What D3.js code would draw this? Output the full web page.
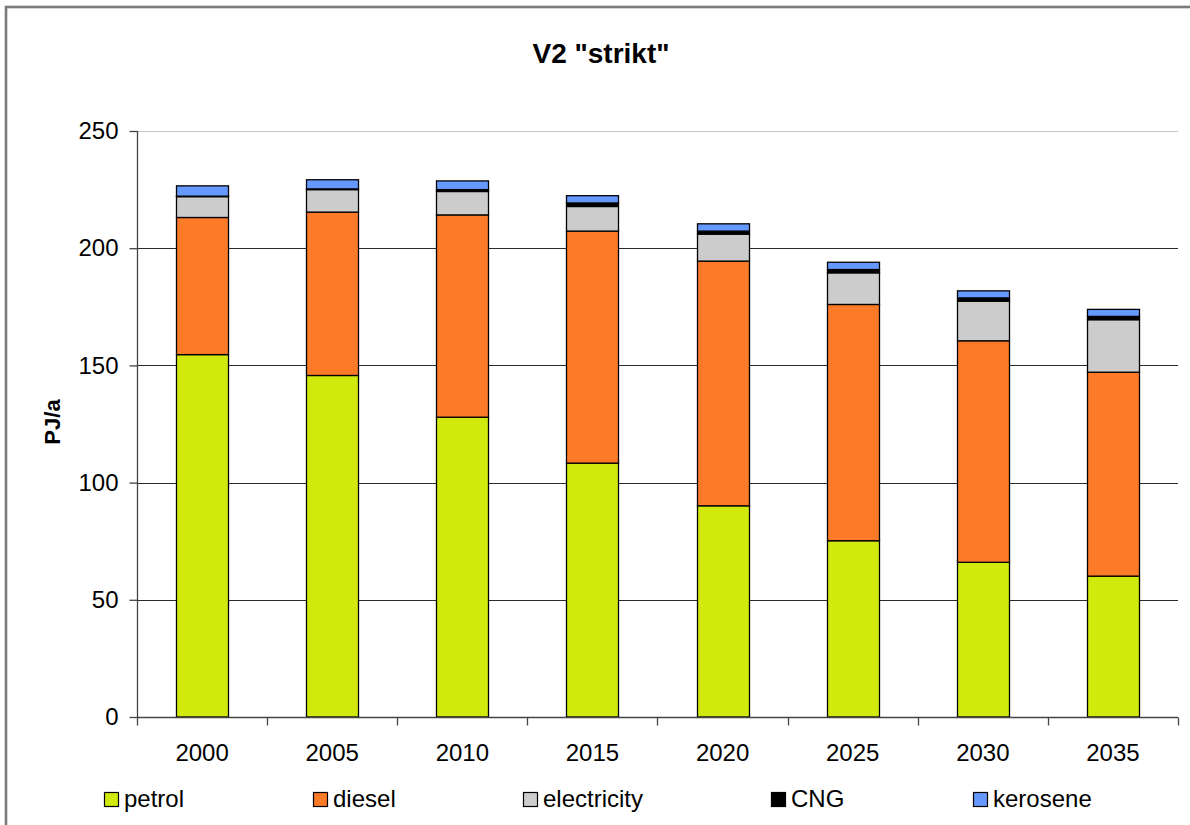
<!DOCTYPE html>
<html>
<head>
<meta charset="utf-8">
<script src="https://cdn.jsdelivr.net/npm/d3@7"></script>
<style>
  html, body { margin: 0; padding: 0; background: #fff; }
  svg { display: block; font-family: Arial, "Liberation Sans", sans-serif; }
</style>
</head>
<body>
<svg id="chart" width="1190" height="825"></svg>
<script>
// Road transport final energy demand by fuel, scenario V2 "strikt" (PJ/a)
const years = ["2000", "2005", "2010", "2015", "2020", "2025", "2030", "2035"];
const petrol      = [154.6, 145.7, 127.9, 108.3, 90.1, 75.2, 66.0, 60.1];
const diesel      = [58.5, 69.7, 86.3, 99.0, 104.4, 100.8, 94.5, 87.0];
const electricity = [8.9, 9.6, 10.0, 10.5, 11.5, 13.5, 16.9, 22.4];
const cng         = [0.2, 0.3, 0.8, 1.5, 1.3, 1.4, 1.4, 1.4];
const kerosene    = [4.4, 3.9, 3.7, 3.1, 3.1, 3.1, 3.0, 3.0];
const seriesNames = ["petrol", "diesel", "electricity", "CNG", "kerosene"];
const yTicks = [0, 50, 100, 150, 200, 250];

const colors = {
  petrol: "#d2e90e",
  diesel: "#fd7b28",
  electricity: "#cccccc",
  CNG: "#000000",
  kerosene: "#6699ff"
};

const rows = years.map((y, i) => ({
  year: y,
  petrol: petrol[i],
  diesel: diesel[i],
  electricity: electricity[i],
  CNG: cng[i],
  kerosene: kerosene[i]
}));

const svg = d3.select("#chart");
const plot = { left: 137, right: 1178, top: 131, bottom: 717 };

// Outer chart frame
svg.append("rect")
  .attr("x", 6).attr("y", 7)
  .attr("width", 1200).attr("height", 840)
  .attr("fill", "none")
  .attr("stroke", "#7a7a7a")
  .attr("stroke-width", 2.6);

const x = d3.scaleBand()
  .domain(years)
  .range([plot.left, plot.right])
  .paddingInner(0.6)
  .paddingOuter(0.3);

const y = d3.scaleLinear()
  .domain([0, 250])
  .range([plot.bottom, plot.top]);

// Horizontal gridlines
svg.append("g")
  .selectAll("line")
  .data(yTicks.filter(t => t > 0))
  .join("line")
  .attr("x1", plot.left).attr("x2", plot.right)
  .attr("y1", d => Math.round(y(d)) + 0.5)
  .attr("y2", d => Math.round(y(d)) + 0.5)
  .attr("stroke", d => d === 250 ? "#c8c8c8" : "#2a2a2a")
  .attr("stroke-width", 1);

// Stacked bars
const stack = d3.stack().keys(seriesNames);
const layers = stack(rows);

svg.append("g")
  .selectAll("g")
  .data(layers)
  .join("g")
  .attr("fill", d => colors[d.key])
  .selectAll("rect")
  .data(d => d)
  .join("rect")
  .attr("x", d => Math.round(x(d.data.year)) + 0.5)
  .attr("y", d => y(d[1]))
  .attr("width", Math.round(x.bandwidth()))
  .attr("height", d => Math.max(0, y(d[0]) - y(d[1])))
  .attr("stroke", "#000")
  .attr("stroke-width", 1.3);

// Y axis
const yAxis = d3.axisLeft(y)
  .tickValues(yTicks)
  .tickSize(8)
  .tickPadding(11)
  .tickFormat(d3.format("d"));

const gy = svg.append("g")
  .attr("transform", `translate(${plot.left + 0.5},0)`)
  .call(yAxis);
gy.select(".domain").attr("stroke", "#444").attr("stroke-width", 1.3)
  .attr("d", `M0,${plot.top}V${plot.bottom}`);
gy.selectAll(".tick line").attr("stroke", "#444").attr("stroke-width", 1.3);
gy.selectAll(".tick text")
  .attr("font-size", 24)
  .attr("fill", "#000")
  .style("font-family", "Arial, 'Liberation Sans', sans-serif");

// X axis
const xAxis = d3.axisBottom(x).tickSize(0).tickPadding(26);
const gx = svg.append("g")
  .attr("transform", `translate(0,${plot.bottom + 0.5})`)
  .call(xAxis);
gx.select(".domain").attr("stroke", "#444").attr("stroke-width", 1.3)
  .attr("d", `M${plot.left},0H${plot.right}`);
gx.selectAll(".tick text")
  .attr("font-size", 24)
  .attr("fill", "#000")
  .style("font-family", "Arial, 'Liberation Sans', sans-serif");

// Category separator ticks below the axis
const bounds = years.map(yr => x(yr) - x.step() * x.paddingOuter())
  .concat([plot.right]);
gx.append("g")
  .selectAll("line")
  .data(bounds)
  .join("line")
  .attr("x1", d => Math.round(d) + 0.5)
  .attr("x2", d => Math.round(d) + 0.5)
  .attr("y1", 0).attr("y2", 8)
  .attr("stroke", "#444")
  .attr("stroke-width", 1.3);

// Title
svg.append("text")
  .attr("x", 601).attr("y", 63)
  .attr("text-anchor", "middle")
  .attr("font-size", 28)
  .attr("font-weight", "bold")
  .text('V2 "strikt"');

// Y axis title
svg.append("text")
  .attr("transform", "translate(60,422) rotate(-90)")
  .attr("text-anchor", "middle")
  .attr("font-size", 22)
  .attr("font-weight", "bold")
  .text("PJ/a");

// Legend
const legendX = [104, 313, 523, 771, 973];
const legend = svg.append("g")
  .selectAll("g")
  .data(seriesNames)
  .join("g")
  .attr("transform", (d, i) => `translate(${legendX[i]},792)`);
legend.append("rect")
  .attr("x", 0.5).attr("y", 0.5)
  .attr("width", 14).attr("height", 14)
  .attr("fill", d => colors[d])
  .attr("stroke", "#000")
  .attr("stroke-width", 1.2);
legend.append("text")
  .attr("x", 20).attr("y", 15)
  .attr("font-size", 24)
  .text(d => d);
</script>
</body>
</html>
